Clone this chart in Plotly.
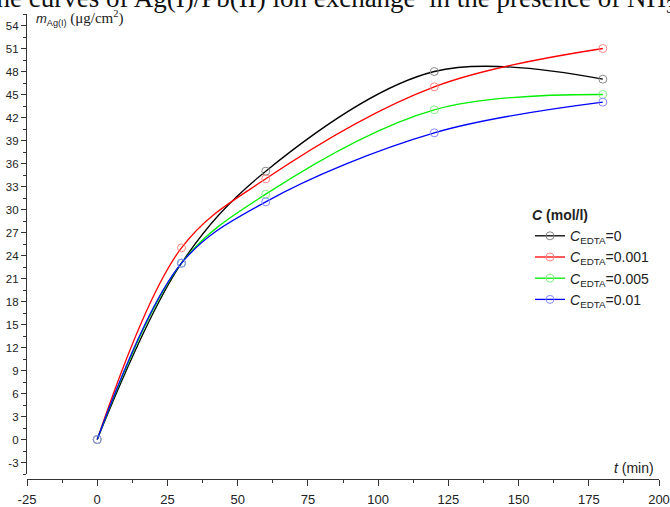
import plotly.graph_objects as go

t = [0, 30, 60, 120, 180]
series_names = ["<i>C</i><sub>EDTA</sub>=0", "<i>C</i><sub>EDTA</sub>=0.001",
                "<i>C</i><sub>EDTA</sub>=0.005", "<i>C</i><sub>EDTA</sub>=0.01"]
m_0 = [0, 23, 35, 48, 47]
m_0001 = [0, 25, 34, 46, 51]
m_0005 = [0, 23, 32, 43, 45]
m_001 = [0, 23, 31, 40, 44]
line_colors = ["#000000", "#ff0000", "#00ee00", "#0000ff"]
marker_colors = ["#888888", "#ff8888", "#88f088", "#8888ff"]

x_ticks = [-25, 0, 25, 50, 75, 100, 125, 150, 175, 200]
y_ticks = list(range(-3, 55, 3))

W, H = 670, 507
ML, MR, MT, MB = 27, 11, 14, 28
PW, PH = W - ML - MR, H - MT - MB

fig = go.Figure()
for name, ys, lc, mc in zip(series_names, [m_0, m_0001, m_0005, m_001], line_colors, marker_colors):
    fig.add_trace(go.Scatter(
        x=t, y=ys, name=name, mode="lines+markers",
        line=dict(color=lc, width=1.3, shape="spline", smoothing=1.0),
        marker=dict(symbol="circle-open", size=8, color=mc, line=dict(width=1, color=mc)),
    ))

font_family = "Liberation Sans, Arial, sans-serif"
serif = "Liberation Serif, Times New Roman, serif"
fig.update_layout(
    width=W, height=H,
    margin=dict(l=ML, r=MR, t=MT, b=MB, autoexpand=False),
    paper_bgcolor="white", plot_bgcolor="white",
    font=dict(family=font_family, size=11, color="#222"),
    showlegend=True,
    legend=dict(
        x=(530 - ML) / PW, y=(H - MB - 202) / PH, xanchor="left", yanchor="top",
        bgcolor="rgba(0,0,0,0)", font=dict(size=14, color="#222"),
        title=dict(text="<b><i>C</i> (mol/l)</b>", font=dict(size=14)),
        itemwidth=30, tracegroupgap=0,
    ),
    xaxis=dict(
        range=[-25, 200], tickvals=x_ticks, ticktext=[str(v) for v in x_ticks],
        ticks="outside", ticklen=6, tickwidth=1.2, tickcolor="#333",
        minor=dict(ticks="outside", ticklen=3, tickwidth=1.2, tickcolor="#333", dtick=12.5, tick0=-25),
        showline=True, linecolor="#333", linewidth=1.3, automargin=False,
        showgrid=False, zeroline=False, anchor="free", position=0,
        tickfont=dict(size=13), ticklabelstandoff=2,
    ),
    yaxis=dict(
        range=[-4.5, 55.5], domain=[5 / PH, 1], automargin=False,
        tickvals=y_ticks, ticktext=[str(v) for v in y_ticks],
        ticks="outside", ticklen=5, tickwidth=1.2, tickcolor="#333",
        minor=dict(ticks="outside", ticklen=3, tickwidth=1.2, tickcolor="#333", dtick=1.5, tick0=0),
        showline=True, linecolor="#333", linewidth=1.3,
        showgrid=False, zeroline=False, tickfont=dict(size=11.5),
    ),
    annotations=[
        dict(text="<i>m</i><sub>Ag(I)</sub> <span style='font-family:Liberation Serif, Times New Roman, serif;font-size:15px'>(μg/cm<sup>2</sup>)</span>",
             xref="paper", yref="paper", x=(34 - ML) / PW, y=1 - 4 / PH,
             xanchor="left", yanchor="middle", showarrow=False,
             font=dict(size=13, color="#222")),
        dict(text="<i>t</i> (min)", xref="paper", yref="paper",
             x=(656 - ML) / PW, y=(H - MB - 468) / PH, xanchor="right", yanchor="middle",
             showarrow=False, font=dict(size=14, color="#222")),
        dict(text="the curves of Ag(I)/Pb(II) ion exchange  in the presence of NH<sub>3</sub>",
             xref="paper", yref="paper", x=(-13 - ML) / PW, y=1 + 14 / PH,
             xanchor="left", yanchor="middle", showarrow=False,
             font=dict(family=serif, size=27, color="#111")),
    ],
)
fig.write_html("out.html")
